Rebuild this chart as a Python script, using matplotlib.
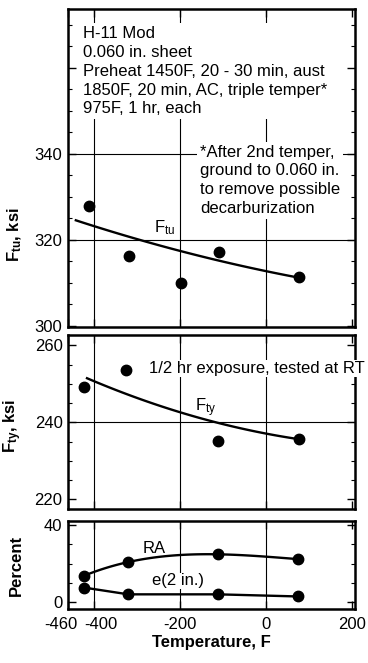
"""
H-11 Mod sheet: tensile properties and ductility vs. exposure temperature
Three stacked panels sharing the temperature axis (Ftu, Fty, percent).
"""

import numpy as np
import matplotlib.pyplot as plt
from matplotlib.ticker import MultipleLocator
from matplotlib.transforms import ScaledTranslation

plt.rcParams['font.family'] = ['Liberation Sans', 'DejaVu Sans']
plt.rcParams['mathtext.fontset'] = 'custom'
plt.rcParams['mathtext.rm'] = 'Liberation Sans'
plt.rcParams['mathtext.it'] = 'Liberation Sans'
plt.rcParams['mathtext.bf'] = 'Liberation Sans:bold'
plt.rcParams['axes.unicode_minus'] = False

# --- data ---------------------------------------------------------------
temp_ftu = [-412, -318, -197, -110, 77]
ftu = [327.9, 316.3, 310.0, 317.2, 311.4]
ftu_curve_t = [-442, -309, -205, -174, 5, 65]
ftu_curve = [324.7, 320.0, 317.7, 317.0, 312.6, 311.4]

temp_fty = [-423, -325, -112, 77]
fty = [249.1, 253.5, 235.1, 235.6]
fty_curve_t = [-416, -321, -205, -135, -98, 0, 65]
fty_curve = [251.9, 246.5, 242.6, 241.0, 239.7, 237.1, 235.6]

temp_duct = [-423, -320, -112, 75]
ra = [13.7, 20.8, 24.8, 22.3]
elong = [7.6, 4.1, 4.1, 3.0]

x_ticks = [-460, -400, -200, 0, 200]
x_grid = [-400, -200, 0]

FS = 12
LW_SPINE = 1.8
LW_GRID = 0.8
LW_DATA = 1.7
MS = 7.5
YLAB_X = -0.155

fig = plt.figure(figsize=(3.68, 6.63), dpi=100)
ax1 = fig.add_axes([0.185, 0.507, 0.780, 0.480])
ax2 = fig.add_axes([0.185, 0.232, 0.780, 0.262])
ax3 = fig.add_axes([0.185, 0.0814, 0.780, 0.1327])


def style_axis(ax, ylim, yticks, ylabels, hgrid):
    ax.set_xlim(-460, 207)
    ax.set_ylim(*ylim)
    ax.set_xticks(x_ticks)
    ax.set_yticks(yticks)
    ax.set_yticklabels(ylabels)
    for s in ax.spines.values():
        s.set_linewidth(LW_SPINE)
    ax.tick_params(direction='in', length=6, width=1.0, labelsize=FS,
                   top=True, right=True, pad=4)
    ax.tick_params(which='minor', direction='in', length=3, width=0.8,
                   left=True, right=True)
    for xv in x_grid:
        ax.axvline(xv, color='black', lw=LW_GRID, zorder=1)
    for yv in hgrid:
        ax.axhline(yv, color='black', lw=LW_GRID, zorder=1)


def smooth(tt, vals, deg):
    coef = np.polyfit(tt, vals, deg)
    xs = np.linspace(min(tt), max(tt), 120)
    return xs, np.polyval(coef, xs)


# --- Ftu panel ---
style_axis(ax1, (299.8, 373.7), [300, 320, 340, 360],
           ['300', '320', '340', ''], [320, 340])
ax1.yaxis.set_minor_locator(MultipleLocator(5))
ax1.tick_params(labelbottom=False)
xs, ys = smooth(ftu_curve_t, ftu_curve, 2)
ax1.plot(xs, ys, color='black', lw=LW_DATA, zorder=3)
ax1.plot(temp_ftu, ftu, 'o', color='black', ms=MS, zorder=4)
ax1.text(-260, 322.8, r'F$_\mathregular{tu}$', fontsize=FS, va='center',
         ha='left', zorder=5)
ax1.text(0.052, 0.945,
         'H-11 Mod\n0.060 in. sheet\nPreheat 1450F, 20 - 30 min, aust\n'
         '1850F, 20 min, AC, triple temper*\n975F, 1 hr, each',
         transform=ax1.transAxes, fontsize=FS, va='top', ha='left',
         linespacing=1.32, zorder=5,
         bbox=dict(facecolor='white', edgecolor='none', pad=2))
ax1.text(0.46, 0.573,
         '*After 2nd temper,\nground to 0.060 in.\nto remove possible\n'
         'decarburization',
         transform=ax1.transAxes, fontsize=FS, va='top', ha='left',
         linespacing=1.32, zorder=5,
         bbox=dict(facecolor='white', edgecolor='none', pad=2))
ax1.set_ylabel(r'F$_\mathbf{tu}$, ksi', fontsize=FS, fontweight='bold')
ax1.yaxis.set_label_coords(YLAB_X, 0.29)

# --- Fty panel ---
style_axis(ax2, (217.4, 262.6), [220, 240, 260],
           ['220', '240', '260'], [240])
ax2.yaxis.set_minor_locator(MultipleLocator(5))
ax2.tick_params(labelbottom=False)
xs, ys = smooth(fty_curve_t, fty_curve, 2)
ax2.plot(xs, ys, color='black', lw=LW_DATA, zorder=3)
ax2.plot(temp_fty, fty, 'o', color='black', ms=MS, zorder=4)
ax2.text(-165, 243.9, r'F$_\mathregular{ty}$', fontsize=FS, va='center',
         ha='left', zorder=5)
ax2.text(-272, 254.0, '1/2 hr exposure, tested at RT', fontsize=FS,
         va='center', ha='left', zorder=5,
         bbox=dict(facecolor='white', edgecolor='none', pad=1))
ax2.set_ylabel(r'F$_\mathbf{ty}$, ksi', fontsize=FS, fontweight='bold')
ax2.yaxis.set_label_coords(YLAB_X, 0.48)

# --- ductility panel ---
style_axis(ax3, (-3.5, 42), [0, 40], ['0', '40'], [])
ax3.yaxis.set_minor_locator(MultipleLocator(10))
xs, ys = smooth(temp_duct, ra, 3)
ax3.plot(xs, ys, color='black', lw=LW_DATA, zorder=3)
ax3.plot(temp_duct, ra, 'o', color='black', ms=MS, zorder=4)
ax3.plot(temp_duct, elong, '-o', color='black', lw=LW_DATA, ms=MS, zorder=4)
ax3.text(-259, 27.8, 'RA', fontsize=FS, va='center', ha='center', zorder=5)
ax3.text(-205, 11.1, 'e(2 in.)', fontsize=FS, va='center', ha='center',
         zorder=5, bbox=dict(facecolor='white', edgecolor='none', pad=0.5))
ax3.set_ylabel('Percent', fontsize=FS, fontweight='bold')
ax3.yaxis.set_label_coords(YLAB_X, 0.5)
ax3.tick_params(axis='x', pad=6)
ax3.set_xlabel('Temperature, F', fontsize=FS, fontweight='bold', labelpad=2)

# the two leftmost tick labels sit close together; nudge them apart
xlabels = ax3.get_xticklabels()
xlabels[0].set_transform(xlabels[0].get_transform()
                         + ScaledTranslation(-5 / 72, 0, fig.dpi_scale_trans))
xlabels[1].set_transform(xlabels[1].get_transform()
                         + ScaledTranslation(5 / 72, 0, fig.dpi_scale_trans))

fig.savefig('out.png', dpi=100)
